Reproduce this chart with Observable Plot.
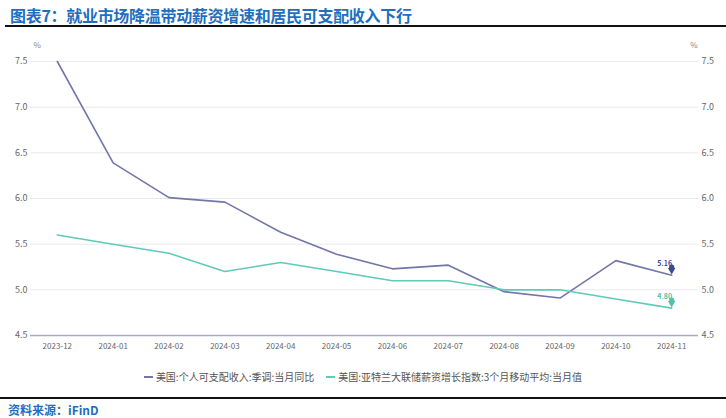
<!DOCTYPE html>
<html><head><meta charset="utf-8">
<script src="https://cdn.jsdelivr.net/npm/d3@7"></script>
<script src="https://cdn.jsdelivr.net/npm/@observablehq/plot@0.6"></script>
<style>
html,body{margin:0;padding:0;background:#fff;}
body{width:726px;height:418px;position:relative;overflow:hidden;font-family:"Noto Sans CJK SC","Noto Sans",sans-serif;}
#title{position:absolute;left:10px;top:3px;font-size:16px;font-weight:bold;color:#1e6fc0;letter-spacing:-0.3px;white-space:nowrap;}
#tline{position:absolute;left:5px;top:25px;width:721px;height:2px;background:#111;}
#chart{position:absolute;left:0;top:30px;}
#legend{position:absolute;left:0;top:369px;width:726px;text-align:center;font-size:10px;color:#555;white-space:nowrap;}
#legend .item{display:inline-block;margin:0 6px;}
#legend .sw{display:inline-block;width:9px;height:2px;vertical-align:middle;margin-right:3px;position:relative;top:-1px;}
#bline{position:absolute;left:0;top:397px;width:726px;height:2px;background:#111;}
#source{position:absolute;left:8px;top:401px;font-size:12px;font-weight:bold;color:#1e6fc0;}
</style></head>
<body>
<div id="title">图表7：就业市场降温带动薪资增速和居民可支配收入下行</div>
<div id="tline"></div>
<div id="chart"></div>
<div id="legend"></div>
<div id="bline"></div>
<div id="source">资料来源：iFinD</div>
<script>
const months = ["2023-12","2024-01","2024-02","2024-03","2024-04","2024-05","2024-06","2024-07","2024-08","2024-09","2024-10","2024-11"];
const income = [7.5, 6.39, 6.01, 5.96, 5.63, 5.39, 5.23, 5.27, 4.98, 4.91, 5.32, 5.16];
const wage = [5.6, 5.5, 5.4, 5.2, 5.3, 5.2, 5.1, 5.1, 5.0, 5.0, 4.9, 4.8];
const seriesNames = ["美国:个人可支配收入:季调:当月同比", "美国:亚特兰大联储薪资增长指数:3个月移动平均:当月值"];
const seriesColors = ["#7276a9", "#5fcab8"];
const pinColors = ["#3d4a8c", "#4fc3ae"];
const yTicks = [4.5, 5.0, 5.5, 6.0, 6.5, 7.0, 7.5];
const lastLabels = ["5.16", "4.80"];

const rows = [];
[income, wage].forEach((arr, s) => arr.forEach((v, i) => rows.push({month: months[i], value: v, series: seriesNames[s]})));
const lastRows = [income, wage].map((arr, s) => ({month: months[months.length-1], value: arr[arr.length-1], series: seriesNames[s], label: lastLabels[s], color: pinColors[s]}));

const fmt = d => d.toFixed(1);
const chart = Plot.plot({
  width: 726, height: 335,
  marginLeft: 30, marginRight: 28, marginTop: 31, marginBottom: 30,
  style: {fontFamily: "'Noto Sans CJK SC', sans-serif", fontSize: "9px", color: "#666", background: "transparent"},
  x: {type: "point", domain: months, padding: 0.48, round: false},
  y: {domain: [4.5, 7.5]},
  color: {domain: seriesNames, range: seriesColors},
  marks: [
    Plot.ruleY(yTicks.slice(1), {stroke: "#e8e8ef", strokeWidth: 1}),
    Plot.ruleY([4.5], {stroke: "#a6a9c9", strokeWidth: 1.5}),
    Plot.axisY({anchor: "left", ticks: yTicks, tickFormat: fmt, tickSize: 0, tickPadding: 3, label: null, fill: "#666"}),
    Plot.axisY({anchor: "right", ticks: yTicks, tickFormat: fmt, tickSize: 0, tickPadding: 3, label: null, fill: "#666"}),
    Plot.axisX({tickSize: 0, tickPadding: 8, label: null, fontSize: 8, fill: "#666"}),
    Plot.text(["%"], {frameAnchor: "top-left", dx: 3, dy: -19, fill: "#888", fontSize: 8}),
    Plot.text(["%"], {frameAnchor: "top-right", dx: -1, dy: -19, fill: "#888", fontSize: 8}),
    Plot.line(rows, {x: "month", y: "value", z: "series", stroke: "series", strokeWidth: 1.6}),
    Plot.dot(lastRows, {x: "month", y: "value", symbol: "triangle", rotate: 180, r: 2.8, dy: -5, fill: "color", stroke: "none"}),
    Plot.dot(lastRows, {x: "month", y: "value", r: 2.6, dy: -8, fill: "color", stroke: "none"}),
    Plot.text(lastRows, {x: "month", y: "value", text: "label", dx: -7, dy: -11, fill: "color", fontSize: 7, fontWeight: "bold"})
  ]
});
document.getElementById("chart").appendChild(chart);

const legend = document.getElementById("legend");
seriesNames.forEach((n, i) => {
  const it = document.createElement("span");
  it.className = "item";
  it.innerHTML = `<span class="sw" style="background:${seriesColors[i]}"></span>${n}`;
  legend.appendChild(it);
});
</script>
</body></html>
